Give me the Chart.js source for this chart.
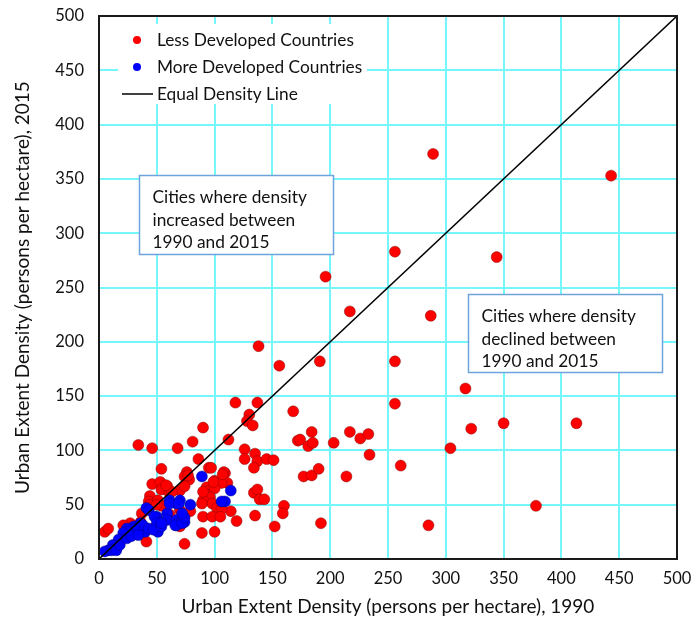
<!DOCTYPE html>
<html>
<head>
<meta charset="utf-8">
<script src="https://cdn.jsdelivr.net/npm/chart.js@4"></script>
<style>
  html, body { margin: 0; padding: 0; background: #ffffff; }
  #wrap { width: 693px; height: 622px; }
</style>
</head>
<body>
<div id="wrap"><canvas id="c" width="693" height="622"></canvas></div>
<script>
const FONT = 'Lato, "Liberation Sans", sans-serif';

// Axis ticks (persons per hectare)
const axisTicks = [0, 50, 100, 150, 200, 250, 300, 350, 400, 450, 500];

// Less developed countries: density in 1990 and 2015
const ldcDensity1990 = [
  289, 443, 256, 344, 196, 217, 287, 138, 156, 191, 256, 317, 256, 322, 350, 413, 304, 261, 378, 285,
  118, 137, 130, 128, 133, 168, 112, 172, 184, 174, 217, 226, 233, 181, 185, 203, 234, 177, 184, 190,
  214, 192, 126, 135, 126, 137, 145, 151, 134, 109, 111, 134, 137, 139, 143, 160, 159, 114, 119, 135,
  152, 90, 81, 68, 86, 95, 97, 108, 54, 76, 34, 46, 74, 78, 100, 106, 46, 53, 59, 54,
  61, 70, 74, 93, 95, 100, 92, 96, 44, 43, 51, 54, 90, 98, 102, 106, 90, 98, 105, 89,
  100, 70, 74, 79, 70, 61, 53, 27, 21, 5, 8, 41, 37, 36, 44, 50, 63, 89, 90, 107,
  58, 77, 99
];
const ldcDensity2015 = [
  373, 353, 283, 278, 260, 228, 224, 196, 178, 182, 182, 157, 143, 120, 125, 125, 102, 86, 49, 31,
  144, 144, 133, 127, 123, 136, 110, 109, 117, 110, 117, 111, 115, 104, 107, 107, 96, 76, 77, 83,
  76, 33, 101, 97, 92, 90, 92, 91, 84, 79, 70, 61, 64, 55, 55, 49, 42, 44, 35, 40,
  30, 121, 108, 102, 92, 84, 84, 80, 83, 80, 105, 102, 76, 73, 72, 70, 69, 71, 67, 64,
  61, 63, 67, 66, 63, 65, 60, 57, 58, 53, 54, 49, 54, 51, 47, 46, 39, 39, 39, 24,
  25, 30, 14, 44, 45, 41, 33, 33, 31, 25, 28, 16, 42, 34, 50, 50, 62, 51, 62, 78,
  68, 77, 71
];

// More developed countries: density in 1990 and 2015
const mdcDensity1990 = [
  114, 109, 89, 106, 61, 67, 70, 79, 41, 50, 59, 59, 67, 73, 74, 67, 40, 51, 36, 30,
  24, 43, 48, 50, 38, 31, 25, 21, 17, 12, 8, 5, 11, 15, 18, 24, 28, 34, 43, 47,
  54, 66, 72, 54, 74, 61, 69, 72
];
const mdcDensity2015 = [
  63, 53, 76, 53, 54, 51, 54, 50, 47, 39, 42, 36, 36, 39, 34, 31, 25, 25, 33, 30,
  28, 45, 39, 33, 31, 28, 25, 24, 18, 13, 8, 7, 8, 8, 13, 19, 21, 22, 28, 27,
  30, 31, 33, 33, 38, 51, 51, 42
];

// Reference line where 2015 density equals 1990 density
const equalLine = [0, 500];

const seriesNames = ['Less Developed Countries', 'More Developed Countries', 'Equal Density Line'];
const xTitle = 'Urban Extent Density (persons per hectare), 1990';
const yTitle = 'Urban Extent Density (persons per hectare), 2015';
const noteIncreased = ['Cities where density', 'increased between', '1990 and 2015'];
const noteDeclined = ['Cities where density', 'declined between', '1990 and 2015'];

const RED = '#ff0000';
const BLUE = '#0000ff';
const GRID = '#74f6fa';

function pairs(xs, ys) {
  return xs.map((x, i) => ({ x: x, y: ys[i] }));
}

// Text boxes anchored in data coordinates
const notes = [
  { lines: noteIncreased, x0: 34.6, x1: 202.4, yTop: 353.6, yBottom: 280.8 },
  { lines: noteDeclined, x0: 319.2, x1: 487.0, yTop: 244.0, yBottom: 172.2 }
];

const notesPlugin = {
  id: 'notes',
  afterDatasetsDraw(chart) {
    const ctx = chart.ctx, xs = chart.scales.x, ys = chart.scales.y;
    ctx.save();
    notes.forEach(n => {
      const l = Math.round(xs.getPixelForValue(n.x0)) + 0.5;
      const r = Math.round(xs.getPixelForValue(n.x1)) + 0.5;
      const t = Math.round(ys.getPixelForValue(n.yTop)) + 0.5;
      const b = Math.round(ys.getPixelForValue(n.yBottom)) + 0.5;
      ctx.fillStyle = '#ffffff';
      ctx.fillRect(l, t, r - l, b - t);
      ctx.strokeStyle = '#6fa3dc';
      ctx.lineWidth = 1.5;
      ctx.strokeRect(l, t, r - l, b - t);
      ctx.fillStyle = '#111111';
      ctx.font = '17.3px ' + FONT;
      ctx.textBaseline = 'middle';
      ctx.textAlign = 'left';
      n.lines.forEach((s, i) => ctx.fillText(s, l + 13, t + 22 + i * 22.5));
    });
    ctx.restore();
  }
};

const legendPlugin = {
  id: 'innerLegend',
  afterDatasetsDraw(chart) {
    const ctx = chart.ctx, a = chart.chartArea;
    const L = a.left, T = a.top;
    ctx.save();
    ctx.fillStyle = '#ffffff';
    ctx.fillRect(L + 19, T + 8, 249, 80);
    ctx.font = '17.3px ' + FONT;
    ctx.textBaseline = 'middle';
    ctx.textAlign = 'left';
    const rows = [
      { kind: 'dot', color: RED },
      { kind: 'dot', color: BLUE },
      { kind: 'line', color: '#000000' }
    ];
    rows.forEach((row, i) => {
      const cy = T + 24 + i * 27;
      if (row.kind === 'dot') {
        ctx.beginPath();
        ctx.arc(L + 38, cy, 4, 0, Math.PI * 2);
        ctx.fillStyle = row.color;
        ctx.fill();
      } else {
        ctx.beginPath();
        ctx.moveTo(L + 23, cy);
        ctx.lineTo(L + 54, cy);
        ctx.strokeStyle = row.color;
        ctx.lineWidth = 1.5;
        ctx.stroke();
      }
      ctx.fillStyle = '#111111';
      ctx.fillText(seriesNames[i], L + 58, cy);
    });
    ctx.restore();
  }
};

const framePlugin = {
  id: 'frame',
  afterDraw(chart) {
    const ctx = chart.ctx, a = chart.chartArea;
    ctx.save();
    ctx.strokeStyle = '#1a1a1a';
    ctx.lineWidth = 2;
    ctx.strokeRect(a.left, a.top, a.right - a.left, a.bottom - a.top);
    ctx.restore();
  }
};

function axisOptions(titleText, isX) {
  return {
    type: 'linear',
    min: 0,
    max: 500,
    afterBuildTicks: s => { s.ticks = axisTicks.map(v => ({ value: v })); },
    afterFit: s => {
      if (isX) { s.height = 63; } else { s.width = 99; }
      // end labels may overhang the plot; the outer padding leaves room for them
      s.paddingLeft = 0; s.paddingRight = 0; s.paddingTop = 0; s.paddingBottom = 0;
    },
    ticks: {
      color: '#111111',
      font: { family: FONT, size: 16.5 },
      padding: isX ? 10 : 15
    },
    grid: { color: GRID, lineWidth: 2, drawTicks: false },
    border: { display: false },
    title: {
      display: true,
      text: titleText,
      color: '#111111',
      font: { family: FONT, size: 19 },
      padding: isX ? { top: 0, bottom: 4 } : { top: 11, bottom: 0 }
    }
  };
}

new Chart(document.getElementById('c'), {
  type: 'scatter',
  data: {
    datasets: [
      {
        label: seriesNames[2],
        data: pairs(equalLine, equalLine),
        showLine: true,
        borderColor: '#000000',
        borderWidth: 1.5,
        pointRadius: 0,
        order: 0
      },
      {
        label: seriesNames[1],
        data: pairs(mdcDensity1990, mdcDensity2015),
        backgroundColor: BLUE,
        borderColor: 'rgba(0,0,110,0.45)',
        borderWidth: 1,
        pointRadius: 5.5,
        order: 1
      },
      {
        label: seriesNames[0],
        data: pairs(ldcDensity1990, ldcDensity2015),
        backgroundColor: RED,
        borderColor: 'rgba(120,0,0,0.45)',
        borderWidth: 1,
        pointRadius: 5.5,
        order: 2
      }
    ]
  },
  options: {
    responsive: false,
    animation: false,
    devicePixelRatio: 1,
    layout: { padding: { top: 16, right: 16, left: 0, bottom: 0 } },
    plugins: { legend: { display: false }, tooltip: { enabled: false } },
    scales: {
      x: axisOptions(xTitle, true),
      y: axisOptions(yTitle, false)
    }
  },
  plugins: [notesPlugin, legendPlugin, framePlugin]
});
</script>
</body>
</html>
